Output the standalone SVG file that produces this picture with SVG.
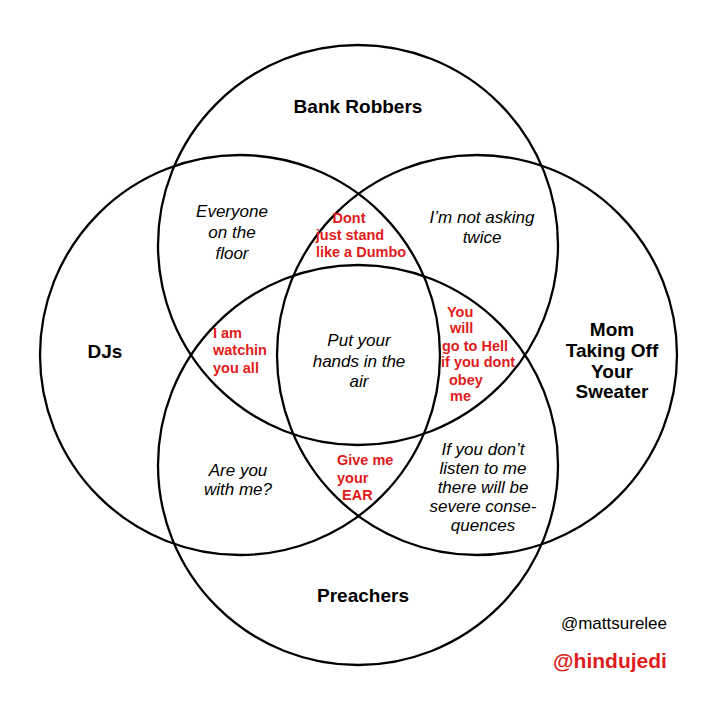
<svg xmlns="http://www.w3.org/2000/svg" width="720" height="720" viewBox="0 0 720 720">
<style>
.c{fill:none;stroke:#000;stroke-width:2.3}
.t{font-family:"Liberation Sans",Arial,sans-serif;font-weight:bold;font-size:19px;fill:#000;text-anchor:middle}
.i{font-family:"Liberation Sans",Arial,sans-serif;font-style:italic;font-size:17px;fill:#000;text-anchor:middle}
.r{font-family:"Liberation Sans",Arial,sans-serif;font-weight:bold;font-size:14.5px;fill:#e01b1b}
</style>
<rect width="720" height="720" fill="#fff"/>
<g id="connectors"></g>
<g id="bank-robbers">
<circle class="c" cx="358" cy="245" r="200"/>
<text class="t" x="358" y="113">Bank Robbers</text>
</g>
<g id="djs">
<circle class="c" cx="240" cy="355" r="200"/>
<text class="t" x="105" y="358">DJs</text>
</g>
<g id="mom">
<circle class="c" cx="477" cy="355" r="200"/>
<text class="t" x="612" y="336">Mom</text>
<text class="t" x="612" y="357">Taking Off</text>
<text class="t" x="612" y="378">Your</text>
<text class="t" x="612" y="398">Sweater</text>
</g>
<g id="preachers">
<circle class="c" cx="358" cy="465" r="200"/>
<text class="t" x="363" y="602">Preachers</text>
</g>
<g id="djs-bank">
<text class="i" x="232" y="217">Everyone</text>
<text class="i" x="232" y="238">on the</text>
<text class="i" x="232" y="259">floor</text>
</g>
<g id="bank-mom">
<text class="i" x="482" y="223">I’m not asking</text>
<text class="i" x="482" y="243">twice</text>
</g>
<g id="djs-bank-mom">
<text class="r" x="349" y="223" text-anchor="middle">Dont</text>
<text class="r" x="350" y="240" text-anchor="middle">just stand</text>
<text class="r" x="361" y="257" text-anchor="middle">like a Dumbo</text>
</g>
<g id="djs-bank-preachers">
<text class="r" x="213" y="338">I am</text>
<text class="r" x="213" y="355">watchin</text>
<text class="r" x="213" y="373">you all</text>
</g>
<g id="all">
<text class="i" x="359" y="346">Put your</text>
<text class="i" x="359" y="367">hands in the</text>
<text class="i" x="359" y="387">air</text>
</g>
<g id="bank-mom-preachers">
<text class="r" x="447" y="317">You</text>
<text class="r" x="450" y="333">will</text>
<text class="r" x="442" y="351">go to Hell</text>
<text class="r" x="441" y="367">if you dont</text>
<text class="r" x="449" y="385">obey</text>
<text class="r" x="450" y="401">me</text>
</g>
<g id="djs-mom-preachers">
<text class="r" x="337" y="465">Give me</text>
<text class="r" x="337" y="483">your</text>
<text class="r" x="342" y="500">EAR</text>
</g>
<g id="djs-preachers">
<text class="i" x="238" y="476">Are you</text>
<text class="i" x="238" y="495">with me?</text>
</g>
<g id="mom-preachers">
<text class="i" x="483" y="455">If you don’t</text>
<text class="i" x="483" y="474">listen to me</text>
<text class="i" x="483" y="493">there will be</text>
<text class="i" x="483" y="512">severe conse-</text>
<text class="i" x="483" y="531">quences</text>
</g>
<g id="credits">
<text x="614" y="629" font-family="Liberation Sans, Arial, sans-serif" font-size="17" text-anchor="middle" fill="#000">@mattsurelee</text>
<text x="610" y="668" font-family="Liberation Sans, Arial, sans-serif" font-size="21" font-weight="bold" text-anchor="middle" fill="#e01b1b">@hindujedi</text>
</g>
</svg>
